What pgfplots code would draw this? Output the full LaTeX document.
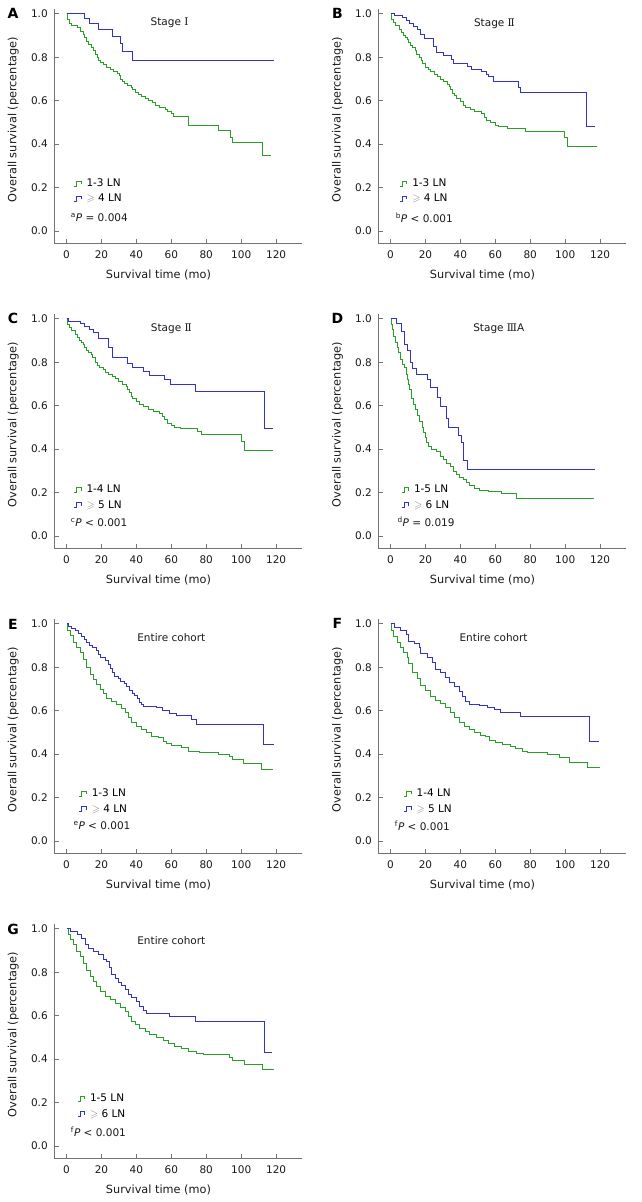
\documentclass[border=0pt]{standalone}
\usepackage{amssymb}
\usepackage{pgfplots}
\pgfplotsset{compat=1.18}
\usepackage{fontspec}
\setmainfont{DejaVu Sans}
\newfontfamily\romfont{DejaVu Serif}

\definecolor{kmgreen}{RGB}{40,160,40}
\definecolor{kmblue}{RGB}{50,50,205}
\definecolor{axgray}{gray}{0.45}
\definecolor{txt}{gray}{0.1}

\newcommand{\gesym}{\textcolor{gray}{$\geqslant$}}
\tikzset{ttl/.style={font=\fontsize{10.5}{12}\selectfont, text=txt}}

\pgfplotsset{
  km/.style={
    scale only axis, width=248pt, height=234.3pt,
    xmin=-7, xmax=135, ymin=-0.058, ymax=1.02,
    axis x line*=bottom, axis y line*=left,
    axis line style={draw=axgray, line width=0.6pt},
    xtick={0,20,...,120}, ytick={0,0.2,0.4,0.6,0.8,1.0},
    /pgf/number format/assume math mode=true,
    tick align=inside, major tick length=5pt,
    tick style={draw=axgray, line width=0.6pt},
    ticklabel style={font=\fontsize{10.5}{12}\selectfont, text=txt},
    xticklabel style={yshift=-3.5pt},
    yticklabel style={xshift=-3pt, /pgf/number format/.cd, fixed, fixed zerofill, precision=1},
    xlabel={Survival time (mo)}, ylabel={Overall survival (percentage)},
    label style={font=\fontsize{11.3}{13}\selectfont, text=txt},
    xlabel style={at={(axis description cs:0.42,-0.134)}, anchor=center},
    ylabel style={at={(axis description cs:-0.165,0.53)}, anchor=center},
    every axis plot/.append style={const plot, no marks, line width=0.8pt},
    legend cell align=left,
    legend style={draw=none, fill=none, font=\fontsize{10.5}{12}\selectfont,
      inner sep=0pt, row sep=0pt, column sep=3pt,
      nodes={text height=7.5pt, text depth=2pt, inner ysep=2.9pt, inner xsep=2pt}},
    legend image code/.code={\draw[#1, line width=0.8pt] (0pt,-2.5pt) -- (2.5pt,-2.5pt) -- (2.5pt,2.5pt) -- (7pt,2.5pt) -- (7pt,-0.5pt);},
  },
}

\begin{document}
\begin{tikzpicture}
\useasboundingbox (0,0) rectangle (642pt,-1202pt);

% panel letters
\begin{scope}[every node/.style={font=\fontsize{14}{14}\selectfont\bfseries, text=black}]
\node at (13pt,-13pt) {A};
\node at (337.5pt,-13pt) {B};
\node at (13pt,-318pt) {C};
\node at (337.5pt,-318pt) {D};
\node at (13pt,-624pt) {E};
\node at (337.5pt,-623pt) {F};
\node at (13pt,-929pt) {G};
\end{scope}

% A
\begin{axis}[km, at={(54.3pt,-243.7pt)}, anchor=south west,
  legend style={at={(axis cs:4,0.255)}, anchor=north west}]
\addplot[kmgreen] coordinates {(0,1)(0.5,0.975)(1.5,0.955)(3,0.945)(6,0.935)(8,0.92)(9.5,0.905)(10.5,0.89)(11.5,0.875)(12.5,0.86)(14,0.845)(15.5,0.83)(16.5,0.815)(17.5,0.80)(18.5,0.785)(19.5,0.775)(21,0.765)(23,0.755)(25,0.745)(27,0.735)(29,0.725)(30,0.715)(31,0.70)(32,0.69)(33,0.68)(35,0.67)(37,0.66)(38,0.65)(39.5,0.64)(41,0.63)(43,0.62)(45,0.61)(47,0.60)(49,0.59)(51,0.58)(53,0.57)(56.5,0.56)(58,0.55)(60,0.54)(61,0.53)(69.5,0.485)(87,0.465)(94,0.43)(95,0.41)(112,0.35)(117,0.35)};
\addplot[kmblue] coordinates {(0,1)(10,0.977)(13,0.955)(18,0.93)(26,0.897)(31,0.862)(32,0.825)(38,0.785)(119,0.785)};
\legend{1-3 LN, \gesym\ 4 LN}
\node[ttl] at (axis cs:59,0.957) {Stage {\romfont Ⅰ}};
\node[ttl, anchor=west] at (axis cs:0.5,0.062) {\textsuperscript{a}\textit{P} = 0.004};
\end{axis}

% B
\begin{axis}[km, at={(378.3pt,-243.7pt)}, anchor=south west,
  legend style={at={(axis cs:5,0.255)}, anchor=north west}]
\addplot[kmgreen] coordinates {(0,1)(0.5,0.975)(1.5,0.96)(3,0.945)(5,0.93)(6.5,0.915)(7.5,0.9)(8.5,0.89)(9.5,0.88)(10.5,0.87)(11.5,0.855)(12.5,0.845)(14,0.83)(15,0.815)(16.5,0.80)(17.5,0.785)(18.5,0.77)(20,0.755)(21.5,0.745)(23,0.735)(25,0.72)(27,0.71)(28.5,0.70)(30,0.69)(32.5,0.675)(33.5,0.665)(34.5,0.65)(35.5,0.635)(36.5,0.625)(38,0.61)(40,0.595)(42,0.58)(43,0.57)(46,0.56)(48,0.55)(52,0.54)(53.5,0.525)(55,0.51)(57,0.50)(60,0.488)(62,0.48)(67,0.472)(77,0.46)(99.5,0.43)(101.5,0.388)(118,0.388)};
\addplot[kmblue] coordinates {(0,1)(2,0.994)(7,0.985)(9,0.97)(11,0.955)(13,0.94)(15.5,0.93)(17,0.905)(19.5,0.887)(24.5,0.85)(26,0.82)(30,0.81)(35,0.79)(36,0.77)(44,0.76)(46.5,0.745)(52,0.735)(55,0.72)(56,0.71)(59,0.69)(73.5,0.66)(74.5,0.64)(112,0.48)(117,0.48)};
\legend{1-3 LN, \gesym\ 4 LN}
\node[ttl] at (axis cs:59.5,0.955) {Stage {\romfont Ⅱ}};
\node[ttl, anchor=west] at (axis cs:1,0.062) {\textsuperscript{b}\textit{P} < 0.001};
\end{axis}

% C
\begin{axis}[km, at={(54.3pt,-548.7pt)}, anchor=south west,
  legend style={at={(axis cs:4,0.248)}, anchor=north west}]
\addplot[kmgreen] coordinates {(0,1)(0.5,0.975)(1.5,0.96)(3,0.945)(5,0.93)(6.5,0.915)(7.5,0.9)(8.5,0.89)(9.5,0.88)(10.5,0.87)(11.5,0.855)(12.5,0.845)(14,0.835)(15,0.82)(16.5,0.80)(17.5,0.785)(19,0.775)(21,0.765)(22.5,0.755)(24,0.745)(26,0.735)(28,0.725)(29.5,0.71)(32,0.70)(34,0.69)(35,0.675)(36,0.66)(37,0.645)(38,0.635)(40,0.62)(42,0.605)(44,0.595)(47,0.585)(50,0.575)(53,0.565)(55,0.55)(56,0.535)(58,0.52)(60,0.51)(62,0.50)(65,0.495)(75,0.48)(77.5,0.467)(100,0.435)(102,0.393)(118,0.393)};
\addplot[kmblue] coordinates {(0,1)(1,0.99)(8,0.98)(10.5,0.965)(13,0.95)(15.5,0.935)(18.5,0.91)(24,0.87)(26,0.82)(35,0.795)(37.5,0.775)(44,0.76)(47.5,0.74)(56,0.72)(59.5,0.70)(74,0.667)(113.5,0.497)(118.5,0.497)};
\legend{1-4 LN, \gesym\ 5 LN}
\node[ttl] at (axis cs:60,0.953) {Stage {\romfont Ⅱ}};
\node[ttl, anchor=west] at (axis cs:0.5,0.064) {\textsuperscript{c}\textit{P} < 0.001};
\end{axis}

% D
\begin{axis}[km, at={(378.3pt,-548.7pt)}, anchor=south west,
  legend style={at={(axis cs:6,0.248)}, anchor=north west}]
\addplot[kmgreen] coordinates {(0,1)(0.4,0.975)(1,0.95)(1.9,0.92)(2.8,0.89)(3.8,0.868)(4.7,0.844)(5.7,0.814)(6.6,0.79)(7.9,0.775)(9,0.744)(9.8,0.72)(10.4,0.698)(11,0.675)(11.7,0.632)(12.9,0.605)(14.2,0.582)(15.5,0.555)(16.4,0.53)(18,0.50)(18.9,0.475)(19.8,0.452)(20.8,0.432)(21.7,0.414)(23.6,0.40)(26.5,0.39)(28.4,0.367)(30.2,0.351)(32,0.336)(34,0.32)(36,0.297)(37.8,0.282)(39.7,0.271)(41.6,0.26)(43.5,0.245)(45.4,0.232)(48.2,0.22)(51,0.212)(55.8,0.205)(63.3,0.197)(72.2,0.174)(116.3,0.174)};
\addplot[kmblue] coordinates {(0,1)(3.5,0.98)(6,0.94)(8,0.88)(9.8,0.855)(11.3,0.80)(12.5,0.77)(14.7,0.745)(21,0.72)(22.7,0.685)(26.8,0.64)(28.7,0.595)(31.8,0.54)(33,0.50)(39,0.465)(40.5,0.43)(42,0.35)(44,0.305)(117,0.305)};
\legend{1-5 LN, \gesym\ 6 LN}
\node[ttl] at (axis cs:62,0.955) {Stage {\romfont Ⅲ}A};
\node[ttl, anchor=west] at (axis cs:2,0.064) {\textsuperscript{d}\textit{P} = 0.019};
\end{axis}

% E
\begin{axis}[km, at={(54.3pt,-853.7pt)}, anchor=south west,
  legend style={at={(axis cs:7,0.253)}, anchor=north west}]
\addplot[kmgreen] coordinates {(0,1)(0.5,0.97)(2,0.945)(4,0.914)(5.9,0.89)(7.8,0.868)(9.7,0.837)(11.6,0.80)(13.5,0.768)(15.4,0.745)(17.3,0.722)(19.2,0.70)(21.1,0.68)(23,0.657)(25.9,0.645)(28.7,0.63)(31.6,0.61)(33.5,0.59)(35.4,0.57)(37.3,0.545)(40,0.53)(43,0.515)(45.8,0.50)(48.7,0.484)(52.5,0.476)(55.3,0.46)(57,0.45)(60,0.44)(65.8,0.43)(69.6,0.415)(76,0.406)(86.7,0.40)(93.3,0.39)(95,0.375)(101,0.357)(111.8,0.33)(118,0.33)};
\addplot[kmblue] coordinates {(0,1)(1,0.99)(3,0.98)(5,0.968)(7,0.955)(8.5,0.94)(10,0.93)(11.5,0.915)(13,0.90)(15,0.89)(17,0.876)(18.5,0.86)(19.5,0.845)(22,0.83)(24,0.815)(25,0.795)(26,0.776)(27.5,0.76)(29.5,0.75)(31,0.737)(33,0.725)(34.5,0.71)(36,0.695)(37.5,0.68)(39,0.67)(40.5,0.655)(42,0.64)(43,0.63)(44,0.62)(51.5,0.614)(55,0.60)(59,0.588)(63,0.577)(71.5,0.56)(74.5,0.538)(113,0.445)(119,0.445)};
\legend{1-3 LN, \gesym\ 4 LN}
\node[ttl] at (axis cs:60,0.937) {Entire cohort};
\node[ttl, anchor=west] at (axis cs:2,0.07) {\textsuperscript{e}\textit{P} < 0.001};
\end{axis}

% F
\begin{axis}[km, at={(378.3pt,-853.7pt)}, anchor=south west,
  legend style={at={(axis cs:7.5,0.253)}, anchor=north west}]
\addplot[kmgreen] coordinates {(0,1)(0.6,0.97)(1.9,0.94)(3.8,0.916)(5.7,0.893)(7.6,0.87)(9.6,0.847)(10.5,0.816)(12.4,0.778)(15.3,0.747)(17.2,0.717)(20.1,0.694)(22.9,0.666)(25.8,0.648)(28.7,0.632)(31.5,0.614)(34.4,0.594)(36.3,0.571)(39.2,0.548)(42.1,0.528)(44.9,0.513)(47.8,0.498)(51.6,0.487)(54.5,0.48)(56.4,0.464)(60.2,0.452)(64,0.446)(68.8,0.436)(71.7,0.426)(75.5,0.415)(78.4,0.406)(90,0.40)(96.6,0.384)(102.3,0.36)(112.8,0.338)(120,0.338)};
\addplot[kmblue] coordinates {(0,1)(2,0.985)(5.7,0.97)(9,0.95)(10.5,0.92)(13.4,0.91)(16.3,0.89)(17.2,0.865)(21,0.845)(23.9,0.82)(25.8,0.79)(28.7,0.775)(31.5,0.755)(33.5,0.73)(36.3,0.71)(39.2,0.69)(41.1,0.665)(43,0.645)(45,0.63)(50.7,0.625)(55.4,0.615)(59.3,0.605)(63,0.59)(74.6,0.575)(113.8,0.46)(119.5,0.46)};
\legend{1-4 LN, \gesym\ 5 LN}
\node[ttl] at (axis cs:59,0.937) {Entire cohort};
\node[ttl, anchor=west] at (axis cs:0.5,0.07) {\textsuperscript{f}\textit{P} < 0.001};
\end{axis}

% G
\begin{axis}[km, at={(54.3pt,-1158.7pt)}, anchor=south west,
  legend style={at={(axis cs:6,0.253)}, anchor=north west}]
\addplot[kmgreen] coordinates {(0,1)(1.1,0.972)(2.1,0.95)(4,0.926)(5.9,0.896)(7.8,0.872)(9.7,0.842)(11.6,0.81)(13.5,0.78)(15.4,0.757)(17.3,0.734)(19.2,0.71)(22.1,0.688)(24.9,0.673)(27.8,0.657)(30.6,0.64)(33.5,0.619)(35.4,0.596)(37.3,0.573)(39.2,0.558)(42,0.542)(44.9,0.527)(47.7,0.515)(51.5,0.50)(55.3,0.485)(58.2,0.473)(62,0.46)(65.8,0.45)(69.6,0.438)(74.3,0.427)(78.1,0.42)(93.3,0.408)(95.2,0.396)(101.9,0.378)(112,0.353)(119,0.353)};
\addplot[kmblue] coordinates {(0,1)(2,0.99)(6,0.975)(8.7,0.955)(10.6,0.93)(12.5,0.91)(15.4,0.895)(18.3,0.88)(21.1,0.86)(23,0.85)(24.3,0.82)(25.9,0.79)(27.8,0.77)(29.7,0.755)(31.6,0.74)(33.5,0.72)(35.4,0.70)(37.3,0.685)(40.1,0.665)(42,0.645)(43.9,0.625)(45.8,0.61)(59,0.595)(74,0.575)(113.3,0.43)(117.7,0.43)};
\legend{1-5 LN, \gesym\ 6 LN}
\node[ttl] at (axis cs:60,0.946) {Entire cohort};
\node[ttl, anchor=west] at (axis cs:0.5,0.064) {\textsuperscript{f}\textit{P} < 0.001};
\end{axis}
\end{tikzpicture}
\end{document}
